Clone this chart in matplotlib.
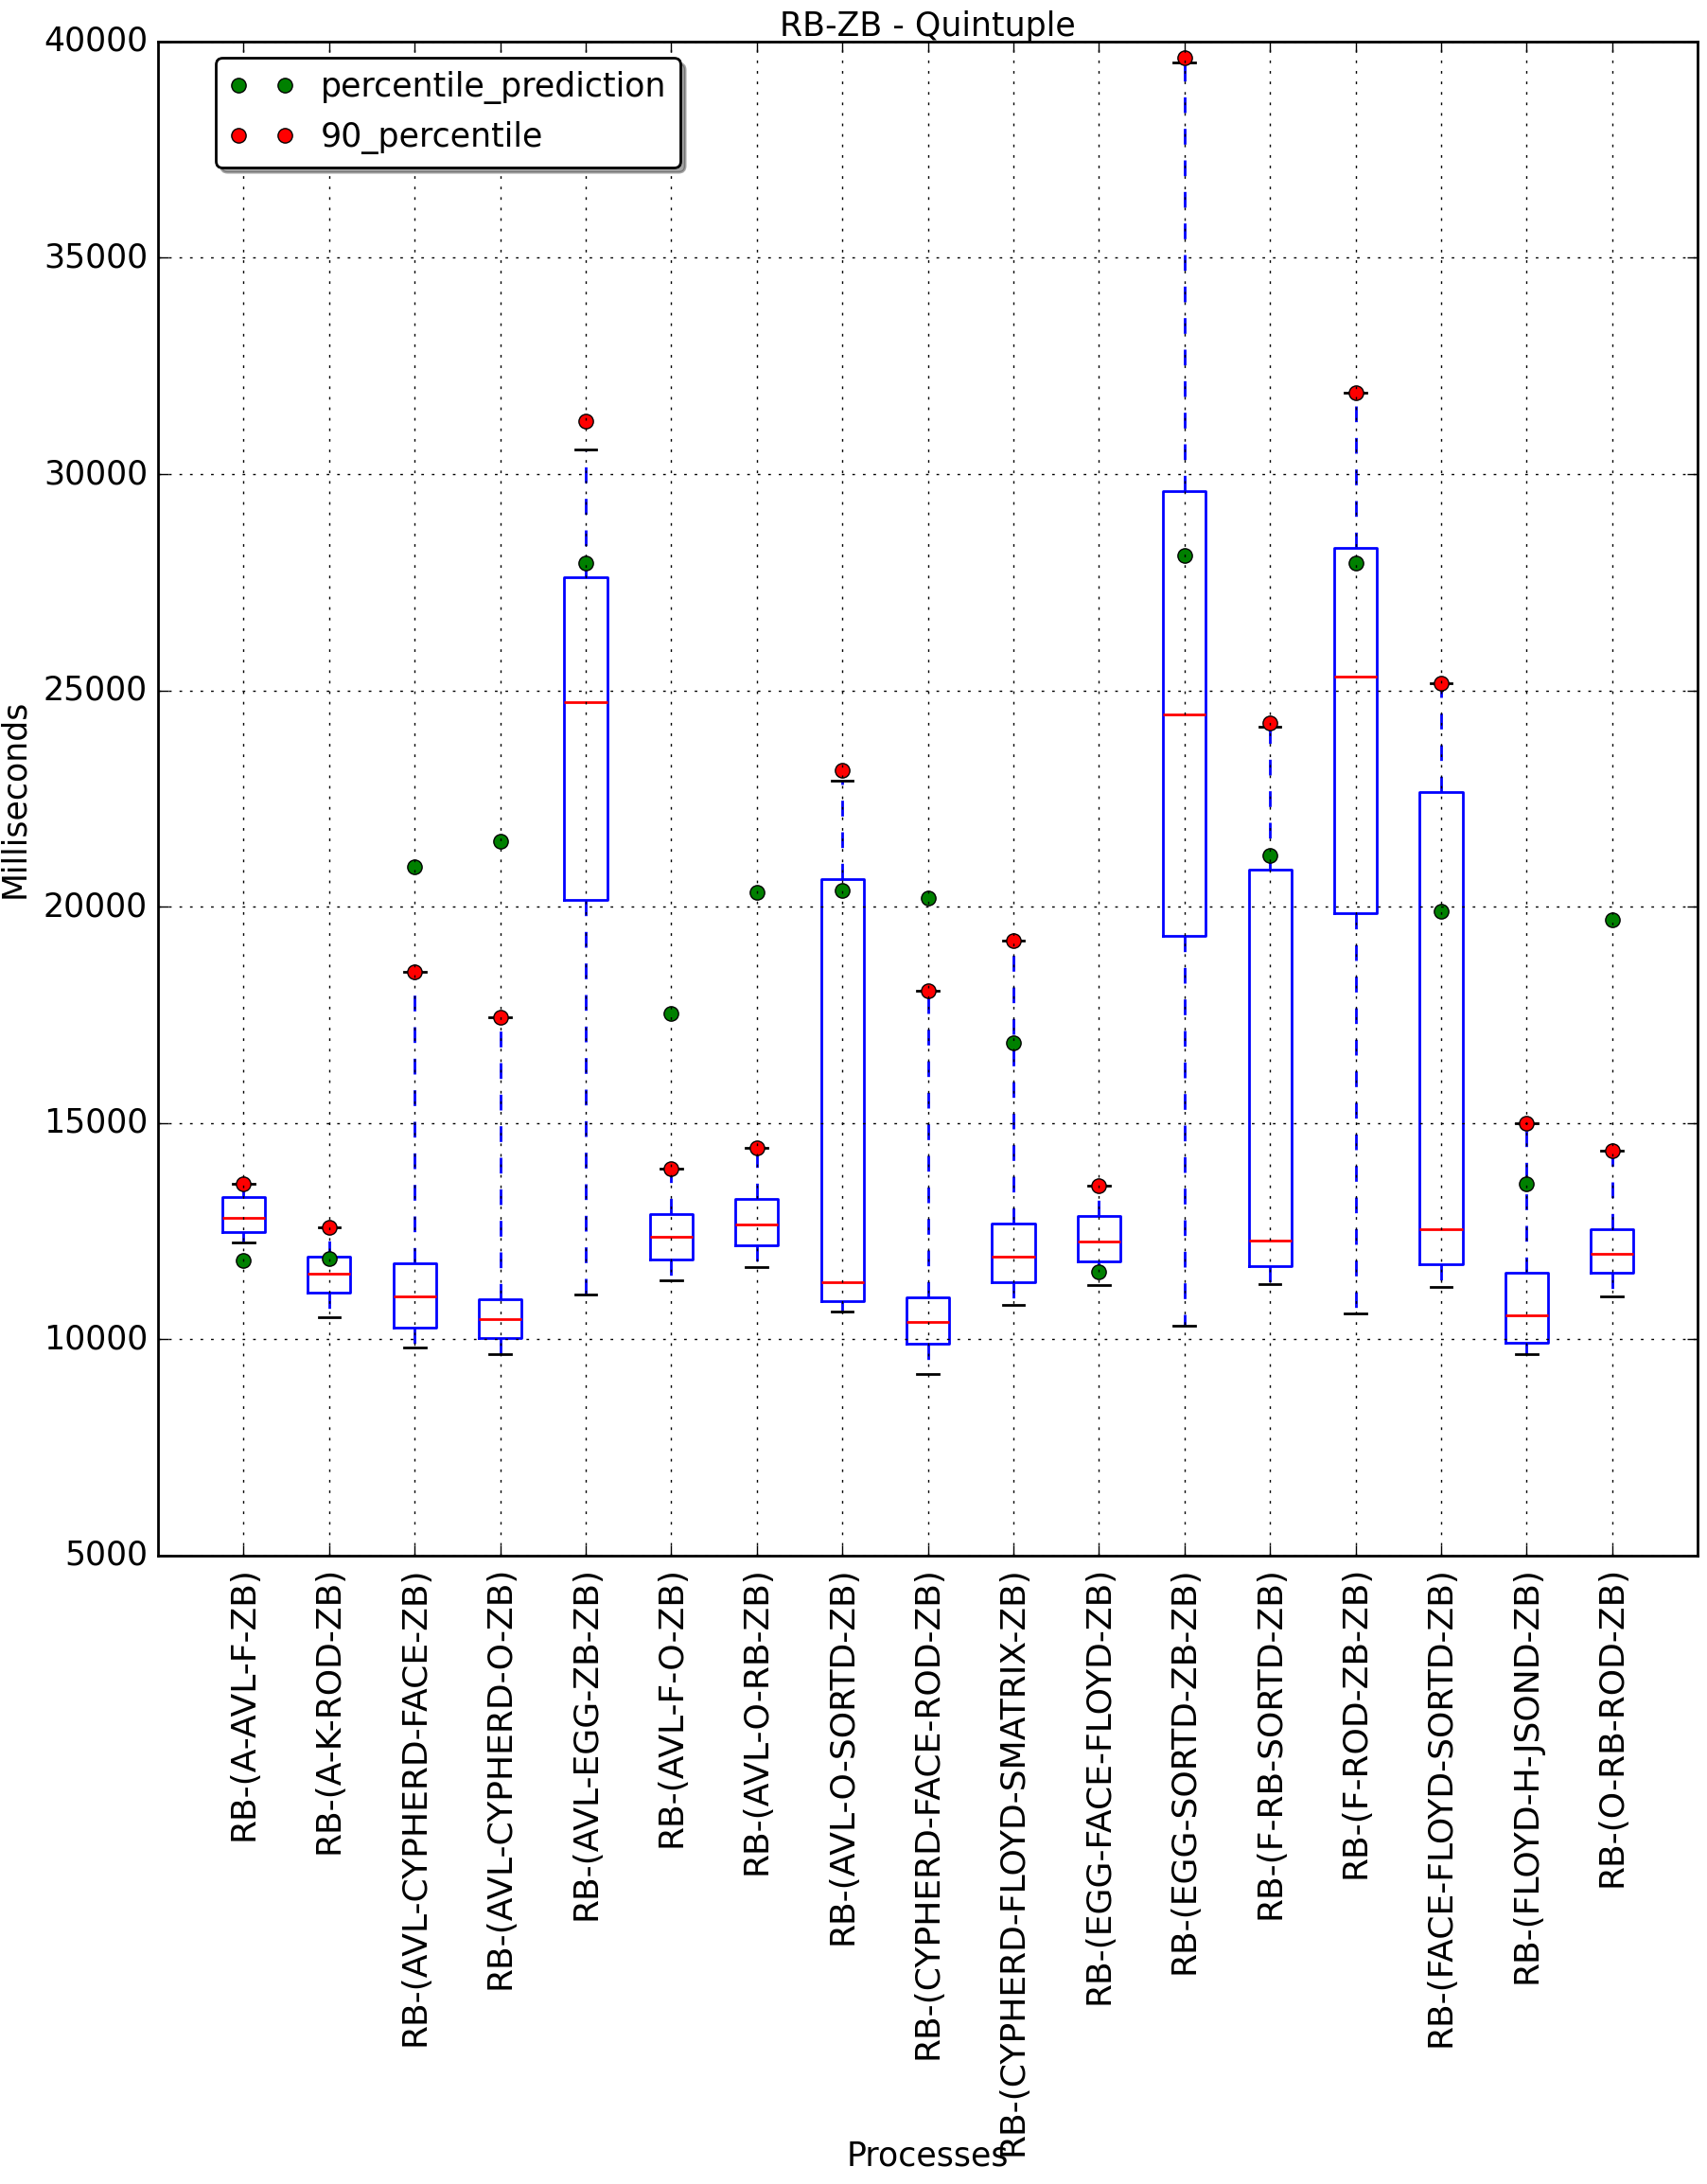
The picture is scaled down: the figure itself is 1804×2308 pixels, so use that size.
import numpy as np
import matplotlib
matplotlib.use('Agg')
import matplotlib.pyplot as plt

plt.style.use('classic')

# process names along the x axis
processes = ['RB-(A-AVL-F-ZB)', 'RB-(A-K-ROD-ZB)', 'RB-(AVL-CYPHERD-FACE-ZB)',
             'RB-(AVL-CYPHERD-O-ZB)', 'RB-(AVL-EGG-ZB-ZB)', 'RB-(AVL-F-O-ZB)',
             'RB-(AVL-O-RB-ZB)', 'RB-(AVL-O-SORTD-ZB)', 'RB-(CYPHERD-FACE-ROD-ZB)',
             'RB-(CYPHERD-FLOYD-SMATRIX-ZB)', 'RB-(EGG-FACE-FLOYD-ZB)',
             'RB-(EGG-SORTD-ZB-ZB)', 'RB-(F-RB-SORTD-ZB)', 'RB-(F-ROD-ZB-ZB)',
             'RB-(FACE-FLOYD-SORTD-ZB)', 'RB-(FLOYD-H-JSOND-ZB)', 'RB-(O-RB-ROD-ZB)']

# box stats (milliseconds)
whis_lo = [12240, 10510, 9810, 9660, 11040, 11370, 11680, 10650, 9200,
           10800, 11255, 10310, 11280, 10600, 11210, 9660, 11000]
q1 = [12480, 11080, 10270, 10030, 20155, 11850, 12180, 10880, 9900,
      11320, 11800, 19330, 11700, 19850, 11740, 9930, 11540]
medians = [12810, 11520, 10990, 10470, 24740, 12380, 12660, 11320, 10400,
           11910, 12260, 24440, 12290, 25320, 12550, 10560, 11985]
q3 = [13290, 11910, 11760, 10930, 27620, 12900, 13250, 20630, 10980,
      12680, 12850, 29605, 20860, 28290, 22642, 11540, 12550]
whis_hi = [13600, 12600, 18490, 17450, 30560, 13950, 14420, 22904, 18060,
           19225, 13555, 39510, 24157, 31890, 25165, 15000, 14366]

# the two point series
percentile_prediction = [11825, 11870, 20920, 21510, 27945, 17530, 20328, 20380, 20197,
                         16850, 11562, 28110, 21180, 27945, 19891, 13598, 19694]
percentile_90 = [13600, 12600, 18490, 17450, 31235, 13950, 14420, 23144, 18060,
                 19225, 13555, 39620, 24244, 31890, 25165, 15000, 14366]

fig = plt.figure(figsize=(9.02, 11.54), facecolor='white')
ax = fig.add_axes([0.0926, 0.2877, 0.9019, 0.6933])

stats = []
for i in range(len(processes)):
    stats.append({'whislo': whis_lo[i], 'q1': q1[i], 'med': medians[i],
                  'q3': q3[i], 'whishi': whis_hi[i], 'fliers': []})
pos = np.arange(1, len(processes) + 1)
ax.bxp(stats, positions=pos, widths=0.5, showfliers=False)

ax.plot(pos, percentile_prediction, 'o', color='g', markersize=5.5,
        markeredgecolor='k', markeredgewidth=0.5, label='percentile_prediction')
ax.plot(pos, percentile_90, 'o', color='r', markersize=5.5,
        markeredgecolor='k', markeredgewidth=0.5, label='90_percentile')

ax.set_xlim(0, len(processes) + 1)
ax.set_ylim(5000, 40000)
ax.set_yticks(np.arange(5000, 40001, 5000))
ax.set_xticks(pos)
ax.set_xticklabels(processes, rotation=90, fontsize=13)
ax.tick_params(axis='y', labelsize=12.5)
ax.grid(True)

ax.set_title('RB-ZB - Quintuple', fontsize=12.5, pad=2)
ax.set_ylabel('Milliseconds', fontsize=12.5)
ax.set_xlabel('Processes', fontsize=12.5)
ax.xaxis.set_label_coords(0.5, -0.386)

ax.legend(loc='upper left', bbox_to_anchor=(0.0375, 0.989), borderaxespad=0,
          numpoints=2, fontsize=12.5, fancybox=True, shadow=True)

fig.savefig('out.png', dpi=200, facecolor='white')
